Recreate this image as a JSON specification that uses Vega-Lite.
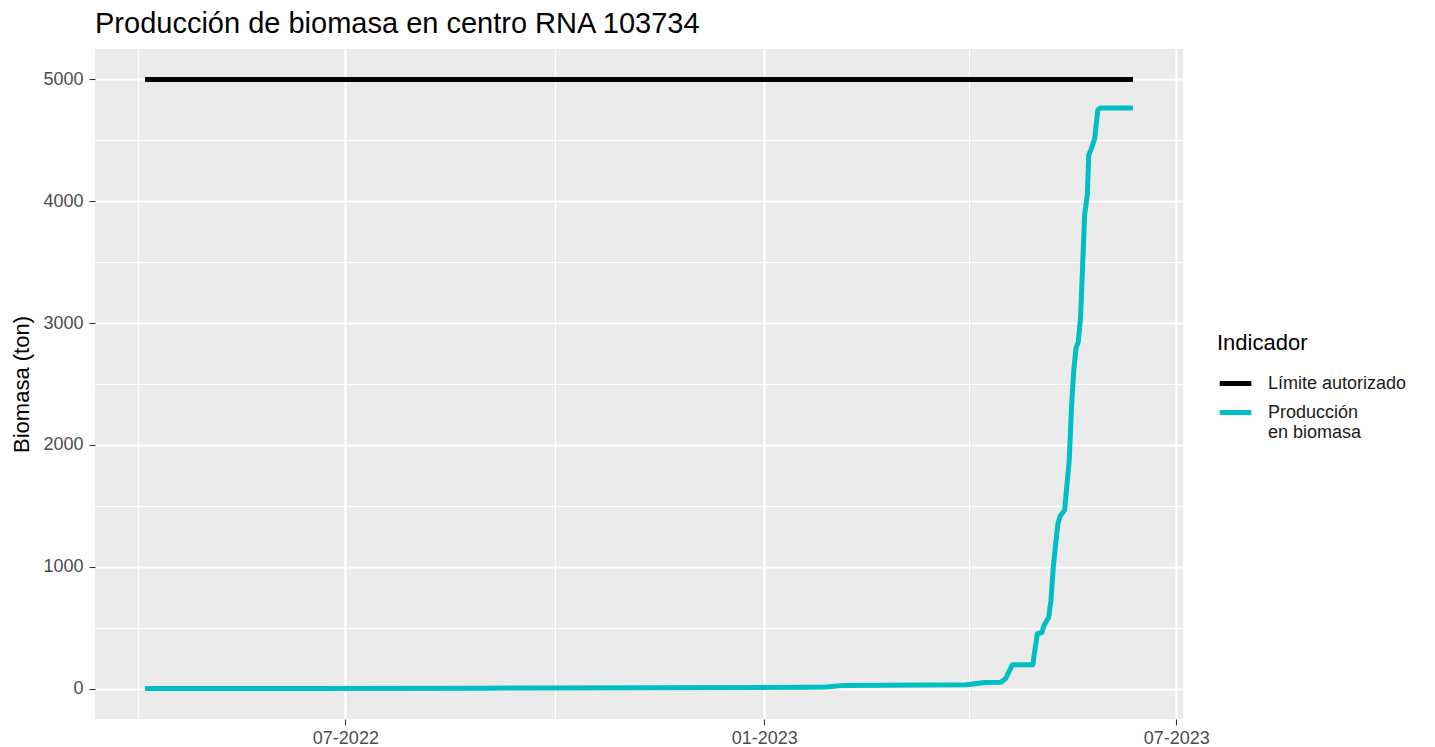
{
  "$schema": "https://vega.github.io/schema/vega-lite/v6.json",
  "width": 1088,
  "height": 670,
  "autosize": {"type": "none"},
  "padding": {"left": 95, "top": 49, "right": 252, "bottom": 28},
  "background": "white",
  "config": {
    "view": {"fill": "#EBEBEB", "stroke": null},
    "font": "Liberation Sans"
  },
  "title": {
    "text": "Producción de biomasa en centro RNA 103734",
    "anchor": "start",
    "frame": "group",
    "fontSize": 29,
    "fontWeight": "normal",
    "color": "black",
    "font": "Liberation Sans",
    "offset": 10
  },
  "data": {
    "values": [
      {"fecha": "2022-04-04", "biomasa": 5000, "Indicador": "Límite autorizado"},
      {"fecha": "2023-06-12", "biomasa": 5000, "Indicador": "Límite autorizado"},
      {"fecha": "2022-04-04", "biomasa": 0, "Indicador": "Producción en biomasa"},
      {"fecha": "2022-06-15", "biomasa": 1, "Indicador": "Producción en biomasa"},
      {"fecha": "2022-09-01", "biomasa": 3, "Indicador": "Producción en biomasa"},
      {"fecha": "2022-11-15", "biomasa": 7, "Indicador": "Producción en biomasa"},
      {"fecha": "2023-01-20", "biomasa": 10, "Indicador": "Producción en biomasa"},
      {"fecha": "2023-01-28", "biomasa": 12, "Indicador": "Producción en biomasa"},
      {"fecha": "2023-02-05", "biomasa": 26, "Indicador": "Producción en biomasa"},
      {"fecha": "2023-03-31", "biomasa": 32, "Indicador": "Producción en biomasa"},
      {"fecha": "2023-04-08", "biomasa": 50, "Indicador": "Producción en biomasa"},
      {"fecha": "2023-04-15", "biomasa": 52, "Indicador": "Producción en biomasa"},
      {"fecha": "2023-04-17", "biomasa": 80, "Indicador": "Producción en biomasa"},
      {"fecha": "2023-04-19", "biomasa": 155, "Indicador": "Producción en biomasa"},
      {"fecha": "2023-04-20", "biomasa": 195, "Indicador": "Producción en biomasa"},
      {"fecha": "2023-04-29", "biomasa": 195, "Indicador": "Producción en biomasa"},
      {"fecha": "2023-05-01", "biomasa": 450, "Indicador": "Producción en biomasa"},
      {"fecha": "2023-05-03", "biomasa": 460, "Indicador": "Producción en biomasa"},
      {"fecha": "2023-05-04", "biomasa": 520, "Indicador": "Producción en biomasa"},
      {"fecha": "2023-05-06", "biomasa": 585, "Indicador": "Producción en biomasa"},
      {"fecha": "2023-05-07", "biomasa": 725, "Indicador": "Producción en biomasa"},
      {"fecha": "2023-05-08", "biomasa": 995, "Indicador": "Producción en biomasa"},
      {"fecha": "2023-05-10", "biomasa": 1350, "Indicador": "Producción en biomasa"},
      {"fecha": "2023-05-11", "biomasa": 1415, "Indicador": "Producción en biomasa"},
      {"fecha": "2023-05-13", "biomasa": 1465, "Indicador": "Producción en biomasa"},
      {"fecha": "2023-05-15", "biomasa": 1870, "Indicador": "Producción en biomasa"},
      {"fecha": "2023-05-16", "biomasa": 2305, "Indicador": "Producción en biomasa"},
      {"fecha": "2023-05-17", "biomasa": 2610, "Indicador": "Producción en biomasa"},
      {"fecha": "2023-05-18", "biomasa": 2795, "Indicador": "Producción en biomasa"},
      {"fecha": "2023-05-19", "biomasa": 2845, "Indicador": "Producción en biomasa"},
      {"fecha": "2023-05-20", "biomasa": 3050, "Indicador": "Producción en biomasa"},
      {"fecha": "2023-05-20T19:00:00Z", "biomasa": 3420, "Indicador": "Producción en biomasa"},
      {"fecha": "2023-05-21T19:00:00Z", "biomasa": 3890, "Indicador": "Producción en biomasa"},
      {"fecha": "2023-05-23T00:00:00Z", "biomasa": 4060, "Indicador": "Producción en biomasa"},
      {"fecha": "2023-05-23T14:00:00Z", "biomasa": 4380, "Indicador": "Producción en biomasa"},
      {"fecha": "2023-05-24T17:00:00Z", "biomasa": 4430, "Indicador": "Producción en biomasa"},
      {"fecha": "2023-05-26T05:00:00Z", "biomasa": 4515, "Indicador": "Producción en biomasa"},
      {"fecha": "2023-05-27T14:00:00Z", "biomasa": 4750, "Indicador": "Producción en biomasa"},
      {"fecha": "2023-05-28T17:00:00Z", "biomasa": 4765, "Indicador": "Producción en biomasa"},
      {"fecha": "2023-06-12", "biomasa": 4765, "Indicador": "Producción en biomasa"}
    ]
  },
  "encoding": {
    "color": {
      "field": "Indicador",
      "type": "nominal",
      "scale": {"domain": ["Límite autorizado", "Producción en biomasa"], "range": ["#000000", "#00BFC4"]},
      "legend": {
        "orient": "none",
        "legendX": 1122,
        "legendY": 284,
        "title": "Indicador",
        "titleFontSize": 22,
        "titleFontWeight": "normal",
        "titleColor": "black",
        "titlePadding": 10,
        "labelFontSize": 18,
        "labelColor": "#1A1A1A",
        "labelOffset": 14,
        "labelExpr": "datum.label == 'Producción en biomasa' ? ['Producción', 'en biomasa'] : datum.label",
        "symbolType": "stroke",
        "symbolSize": 1000,
        "symbolStrokeWidth": 5,
        "rowPadding": 0
      }
    }
  },
  "resolve": {"axis": {"x": "independent", "y": "independent"}},
  "layer": [
    {
      "transform": [{"filter": "datum.Indicador == 'Límite autorizado'"}],
      "mark": {"type": "line", "strokeWidth": 5, "strokeCap": "butt"},
      "encoding": {
        "x": {
          "field": "fecha", "type": "temporal",
          "scale": {"type": "utc", "domain": [{"year": 2022, "month": 3, "date": 13, "utc": true}, {"year": 2023, "month": 7, "date": 4, "utc": true}], "nice": false},
          "axis": {
            "orient": "bottom",
            "values": [{"year": 2022, "month": 4, "date": 1, "utc": true}, {"year": 2022, "month": 10, "date": 1, "utc": true}, {"year": 2023, "month": 4, "date": 1, "utc": true}],
            "grid": true, "gridColor": "#FFFFFF", "gridWidth": 1.1,
            "labels": false, "ticks": false, "domain": false, "title": null
          }
        },
        "y": {
          "field": "biomasa", "type": "quantitative",
          "scale": {"domain": [-250, 5250], "nice": false, "zero": false},
          "axis": {
            "orient": "left",
            "values": [500, 1500, 2500, 3500, 4500],
            "grid": true, "gridColor": "#FFFFFF", "gridWidth": 1.1,
            "labels": false, "ticks": false, "domain": false, "title": null
          }
        }
      }
    },
    {
      "transform": [{"filter": "datum.Indicador == 'Producción en biomasa'"}],
      "mark": {"type": "line", "strokeWidth": 5, "strokeCap": "butt", "strokeJoin": "round"},
      "encoding": {
        "x": {
          "field": "fecha", "type": "temporal",
          "axis": {
            "orient": "bottom",
            "values": [{"year": 2022, "month": 7, "date": 1, "utc": true}, {"year": 2023, "month": 1, "date": 1, "utc": true}, {"year": 2023, "month": 7, "date": 1, "utc": true}],
            "labelExpr": "utcFormat(datum.value, '%m-%Y')",
            "grid": true, "gridColor": "#FFFFFF", "gridWidth": 2.2,
            "domain": false,
            "ticks": true, "tickColor": "#333333", "tickSize": 6, "tickWidth": 1.1,
            "labelFontSize": 18, "labelColor": "#4D4D4D", "labelPadding": 4,
            "labelFont": "Liberation Sans",
            "title": null
          }
        },
        "y": {
          "field": "biomasa", "type": "quantitative",
          "axis": {
            "orient": "left",
            "values": [0, 1000, 2000, 3000, 4000, 5000],
            "format": "d",
            "grid": true, "gridColor": "#FFFFFF", "gridWidth": 2.2,
            "domain": false,
            "ticks": true, "tickColor": "#333333", "tickSize": 6, "tickWidth": 1.1,
            "labelFontSize": 18, "labelColor": "#4D4D4D", "labelPadding": 6,
            "labelFont": "Liberation Sans",
            "title": "Biomasa (ton)",
            "titleFontSize": 22, "titleFontWeight": "normal", "titleColor": "black",
            "titleFont": "Liberation Sans",
            "titlePadding": 9
          }
        }
      }
    }
  ]
}
